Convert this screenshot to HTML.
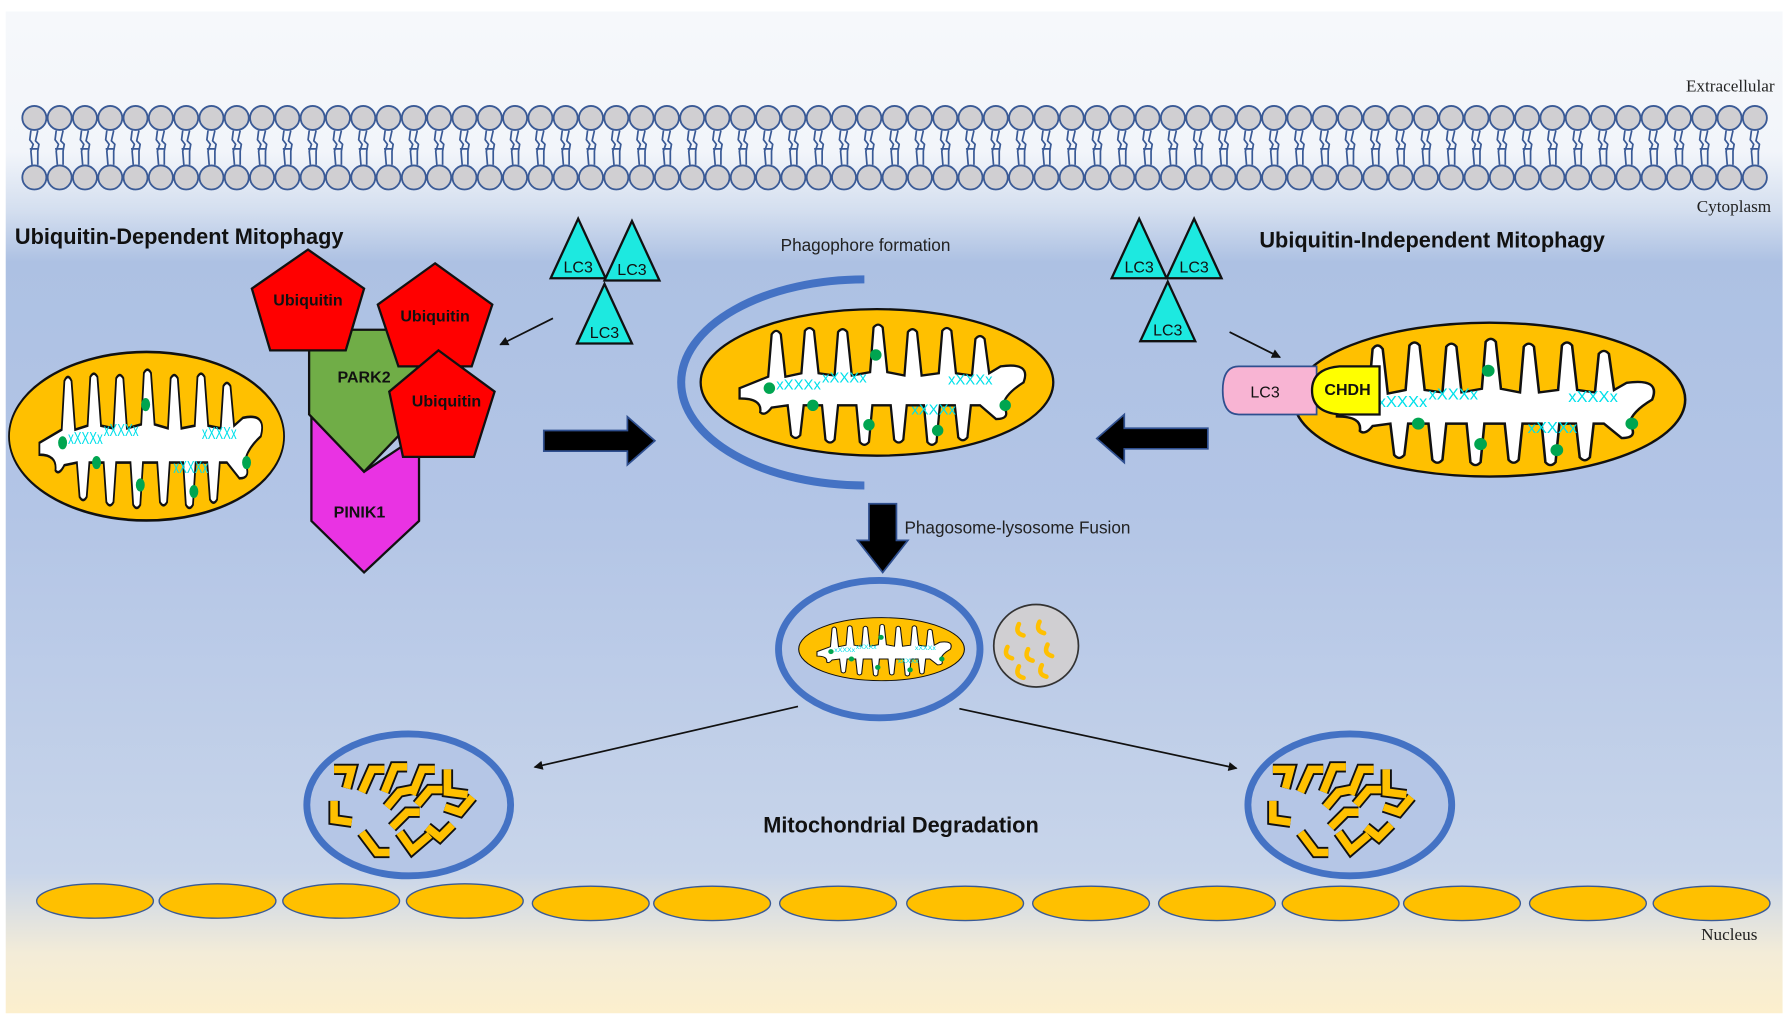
<!DOCTYPE html>
<html><head><meta charset="utf-8"><style>
html,body{margin:0;padding:0;background:#fff}
svg{display:block}
text{font-family:"Liberation Sans",sans-serif}
</style></head><body>
<svg width="1786" height="1019" viewBox="0 0 1560 890" xmlns="http://www.w3.org/2000/svg">
<defs>
<linearGradient id="bg" x1="0" y1="0" x2="0" y2="1">
<stop offset="0" stop-color="#f6f8fb"/>
<stop offset="0.14" stop-color="#f2f5fa"/>
<stop offset="0.2" stop-color="#d3deef"/>
<stop offset="0.25" stop-color="#adc1e3"/>
<stop offset="0.5" stop-color="#b3c5e6"/>
<stop offset="0.86" stop-color="#c8d5ea"/>
<stop offset="0.94" stop-color="#f3ecd8"/>
<stop offset="1" stop-color="#fcefcd"/>
</linearGradient>
<g id="mito">
<ellipse cx="0" cy="0" rx="154" ry="64" fill="#ffc000" stroke="#111" stroke-width="2"/>
<path d="M -120 5 L -95 -5 L -92 -42 Q -88 -48 -84 -42 L -80 -5 L -66 -8 L -63 -45 Q -59 -50 -55 -45 L -51 -8 L -37 -6 L -34 -44 Q -30 -49 -26 -44 L -22 -6 L -6 -9 L -3 -48 Q 1 -53 5 -48 L 9 -9 L 24 -6 L 27 -44 Q 31 -49 35 -44 L 39 -6 L 54 -8 L 57 -45 Q 61 -50 65 -45 L 69 -8 L 83 -6 L 86 -38 Q 90 -43 94 -38 L 98 -8 L 108 -14 Q 135 -18 128 0 Q 112 10 110 20 Q 118 32 104 32 L 90 20 L 82 20 L 79 48 Q 75 53 71 48 L 68 20 L 55 20 L 52 52 Q 48 57 44 52 L 41 20 L 26 20 L 23 50 Q 19 55 15 50 L 12 20 L -4 20 L -7 52 Q -11 57 -15 52 L -18 20 L -34 20 L -37 50 Q -41 55 -45 50 L -48 20 L -64 20 L -67 46 Q -71 51 -75 46 L -78 20 L -92 22 Q -98 30 -102 26 Q -100 14 -120 14 Z" fill="#fff" stroke="#111" stroke-width="2"/>
<g fill="#00e0ea" font-size="13" font-family="Liberation Sans,sans-serif">
<text x="-88" y="6">xXXXx</text><text x="-48" y="0">xXXXx</text><text x="30" y="28">xXXXx</text><text x="62" y="2">xXXXx</text>
</g>
<g fill="#00a550">
<circle cx="-94" cy="5" r="5"/><circle cx="-56" cy="20" r="5"/><circle cx="-1" cy="-24" r="5"/><circle cx="-7" cy="37" r="5"/><circle cx="53" cy="42" r="5"/><circle cx="112" cy="20" r="5"/>
</g>
</g>
<g id="lc3t">
<polygon points="0,-28 24,24 -24,24" fill="#1de9e0" stroke="#111" stroke-width="2"/>
<text x="0" y="19" font-size="14" text-anchor="middle" fill="#111">LC3</text>
</g>
<g id="frag" fill="none" stroke-linejoin="miter">
<g stroke="#111" stroke-width="9">
<polyline points="-62,-30 -48,-30 -52,-15"/><polyline points="-40,-12 -32,-30 -22,-30"/><polyline points="-22,-12 -14,-32 -4,-32"/><polyline points="0,-10 8,-30 18,-30"/><polyline points="28,-30 28,-12 44,-10"/><polyline points="-62,-5 -62,10 -48,12"/><polyline points="-20,0 -10,-12 0,-14"/><polyline points="4,-2 14,-14 24,-14"/><polyline points="26,0 38,4 48,-8"/><polyline points="-40,20 -28,36 -18,36"/><polyline points="-10,20 0,34 14,22"/><polyline points="-16,16 -4,4 6,4"/><polyline points="12,16 22,24 32,14"/>
</g>
<g stroke="#ffc000" stroke-width="6">
<polyline points="-62,-30 -48,-30 -52,-15"/><polyline points="-40,-12 -32,-30 -22,-30"/><polyline points="-22,-12 -14,-32 -4,-32"/><polyline points="0,-10 8,-30 18,-30"/><polyline points="28,-30 28,-12 44,-10"/><polyline points="-62,-5 -62,10 -48,12"/><polyline points="-20,0 -10,-12 0,-14"/><polyline points="4,-2 14,-14 24,-14"/><polyline points="26,0 38,4 48,-8"/><polyline points="-40,20 -28,36 -18,36"/><polyline points="-10,20 0,34 14,22"/><polyline points="-16,16 -4,4 6,4"/><polyline points="12,16 22,24 32,14"/>
</g>
</g>
<marker id="ah" markerWidth="8" markerHeight="8" refX="7" refY="4" orient="auto" markerUnits="userSpaceOnUse"><path d="M0,0 L8,4 L0,8 Z" fill="#111"/></marker>
</defs>
<rect x="0" y="0" width="1560" height="890" fill="#fff"/>
<rect x="5" y="10" width="1552" height="875" fill="url(#bg)"/>

<g id="heads" fill="#d0cfd2" stroke="#3a5a96" stroke-width="1.6"></g>
<g id="tails" stroke="#3a5a96" stroke-width="1.5" fill="none"></g>

<text x="1550" y="80" font-size="15" text-anchor="end" fill="#222" style="font-family:'Liberation Serif',serif">Extracellular</text>
<text x="1547" y="185" font-size="15" text-anchor="end" fill="#222" style="font-family:'Liberation Serif',serif">Cytoplasm</text>
<text x="1535" y="821" font-size="15" text-anchor="end" fill="#222" style="font-family:'Liberation Serif',serif">Nucleus</text>

<text x="13" y="213" font-size="19" font-weight="bold" fill="#111">Ubiquitin-Dependent Mitophagy</text>
<text x="1100" y="216" font-size="19" font-weight="bold" fill="#111">Ubiquitin-Independent Mitophagy</text>
<text x="756" y="219" font-size="15" text-anchor="middle" fill="#222">Phagophore formation</text>
<text x="790" y="466" font-size="15" fill="#222">Phagosome-lysosome Fusion</text>
<text x="787" y="727" font-size="19" font-weight="bold" text-anchor="middle" fill="#111">Mitochondrial Degradation</text>

<use href="#mito" transform="translate(128,381) scale(0.78,1.15)"/>
<polygon points="272,362 318,412 366,380 366,455 318,500 272,455" fill="#e933e3" stroke="#111" stroke-width="2"/>
<polygon points="270,288 366,288 366,362 318,412 270,362" fill="#70ad47" stroke="#111" stroke-width="2"/>
<text x="318" y="334" font-size="14" font-weight="bold" text-anchor="middle" fill="#111">PARK2</text>
<text x="314" y="452" font-size="14" font-weight="bold" text-anchor="middle" fill="#111">PINIK1</text>
<polygon points="269,218 318,252 302,306 236,306 220,252" fill="#f00" stroke="#111" stroke-width="2"/>
<text x="269" y="267" font-size="14" font-weight="bold" text-anchor="middle" fill="#111">Ubiquitin</text>
<polygon points="380,230 430,266 412,320 348,320 330,266" fill="#f00" stroke="#111" stroke-width="2"/>
<text x="380" y="281" font-size="14" font-weight="bold" text-anchor="middle" fill="#111">Ubiquitin</text>
<polygon points="383,306 432,342 414,399 352,399 340,342" fill="#f00" stroke="#111" stroke-width="2"/>
<text x="390" y="355" font-size="14" font-weight="bold" text-anchor="middle" fill="#111">Ubiquitin</text>

<use href="#lc3t" transform="translate(505,219)"/>
<use href="#lc3t" transform="translate(552,221)"/>
<use href="#lc3t" transform="translate(528,276)"/>
<use href="#lc3t" transform="translate(995,219)"/>
<use href="#lc3t" transform="translate(1043,219)"/>
<use href="#lc3t" transform="translate(1020,274)"/>

<g stroke="#111" stroke-width="1.5" marker-end="url(#ah)">
<line x1="483" y1="278" x2="437" y2="301"/>
<line x1="1074" y1="290" x2="1118" y2="312"/>
<line x1="697" y1="617" x2="467" y2="670"/>
<line x1="838" y1="619" x2="1080" y2="671"/>
</g>

<polygon points="475,376 548,376 548,364 572,385 548,406 548,394 475,394" fill="#000" stroke="#2f4f8f" stroke-width="1.5"/>
<polygon points="1055,374 982,374 982,362 958,383 982,404 982,392 1055,392" fill="#000" stroke="#2f4f8f" stroke-width="1.5"/>
<polygon points="759,440 783,440 783,472 793,472 771,500 749,472 759,472" fill="#000" stroke="#2f4f8f" stroke-width="1.5"/>

<path d="M 755 244 A 160 90 0 0 0 755 424" fill="none" stroke="#4472c4" stroke-width="7"/>
<use href="#mito" transform="translate(766,334)"/>

<use href="#mito" transform="translate(1301,349) scale(1.11,1.05)"/>
<path d="M1082 320 L1150 320 L1150 362 L1082 362 Q1068 362 1068 341 Q1068 320 1082 320 Z" fill="#f8b4d3" stroke="#2f4f8f" stroke-width="1.5"/>
<text x="1105" y="347" font-size="14" text-anchor="middle" fill="#111">LC3</text>
<path d="M1205 320 L1170 320 Q1146 322 1146 341 Q1146 360 1170 362 L1205 362 Z" fill="#ff0" stroke="#111" stroke-width="2"/>
<text x="1177" y="345" font-size="14" font-weight="bold" text-anchor="middle" fill="#111">CHDH</text>

<ellipse cx="768" cy="567" rx="88" ry="60" fill="#b5c6e6" stroke="#4472c4" stroke-width="6"/>
<use href="#mito" transform="translate(770,567) scale(0.47,0.43)"/>
<ellipse cx="905" cy="564" rx="37" ry="36" fill="#d0cfd2" stroke="#333" stroke-width="1.5"/>
<g fill="none" stroke="#ffc000" stroke-width="4" stroke-linecap="round">
<path d="M890 545 q-4 8 4 10"/><path d="M908 543 q-4 8 4 10"/><path d="M880 565 q-4 8 4 10"/><path d="M898 567 q-4 8 4 10"/><path d="M915 563 q-4 8 4 10"/><path d="M890 582 q-4 8 4 10"/><path d="M910 581 q-4 8 4 10"/>
</g>

<ellipse cx="357" cy="703" rx="89" ry="62" fill="#b5c6e6" stroke="#4472c4" stroke-width="6"/>
<use href="#frag" transform="translate(360,705) scale(1.1)"/>
<ellipse cx="1179" cy="703" rx="89" ry="62" fill="#b5c6e6" stroke="#4472c4" stroke-width="6"/>
<use href="#frag" transform="translate(1180,705) scale(1.1)"/>

<g fill="#ffc000" stroke="#3a5a96" stroke-width="1.2">
<ellipse cx="83" cy="787" rx="51" ry="15"/><ellipse cx="190" cy="787" rx="51" ry="15"/><ellipse cx="298" cy="787" rx="51" ry="15"/><ellipse cx="406" cy="787" rx="51" ry="15"/><ellipse cx="516" cy="789" rx="51" ry="15"/><ellipse cx="622" cy="789" rx="51" ry="15"/><ellipse cx="732" cy="789" rx="51" ry="15"/><ellipse cx="843" cy="789" rx="51" ry="15"/><ellipse cx="953" cy="789" rx="51" ry="15"/><ellipse cx="1063" cy="789" rx="51" ry="15"/><ellipse cx="1171" cy="789" rx="51" ry="15"/><ellipse cx="1277" cy="789" rx="51" ry="15"/><ellipse cx="1387" cy="789" rx="51" ry="15"/><ellipse cx="1495" cy="789" rx="51" ry="15"/>
</g>
</svg>
<script>
(function(){
var ns="http://www.w3.org/2000/svg";
var h=document.getElementById("heads"),t=document.getElementById("tails");
for(var i=0;i<69;i++){
 var x=30+i*22.1;
 [103,155].forEach(function(y){var c=document.createElementNS(ns,"circle");c.setAttribute("cx",x);c.setAttribute("cy",y);c.setAttribute("r",10.5);h.appendChild(c);});
 var p=document.createElementNS(ns,"path");
 p.setAttribute("d","M"+(x-3)+" 114 l-1 8 l3 4 l-2 6 l1 12 M"+(x+3)+" 114 l-2 9 l3 3 l-1 6 l0 12 M"+(x-4)+" 130 l8 0");
 t.appendChild(p);
}
})();
</script>
</body></html>
